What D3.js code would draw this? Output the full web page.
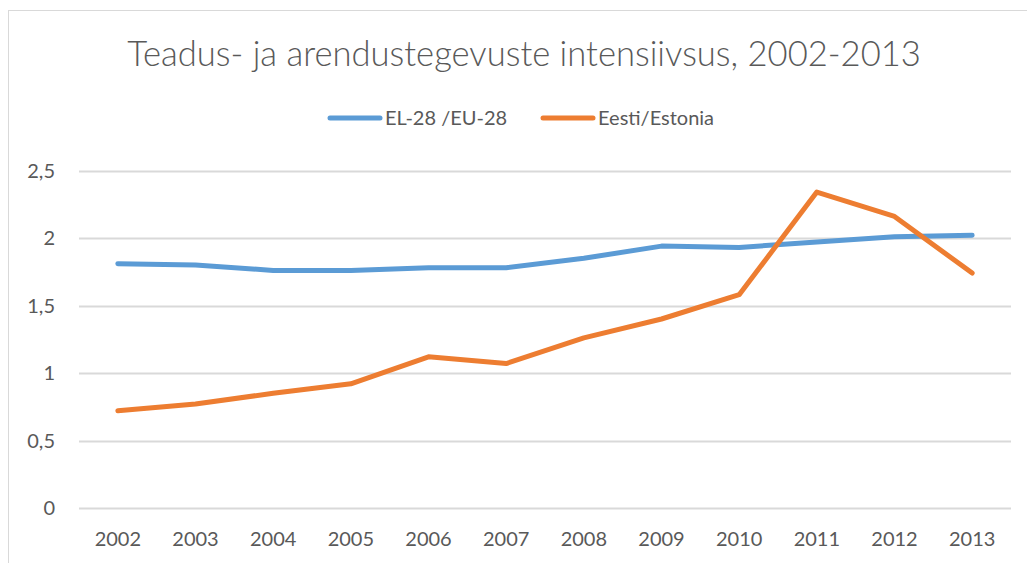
<!DOCTYPE html>
<html>
<head>
<meta charset="utf-8">
<script src="https://cdn.jsdelivr.net/npm/d3@7"></script>
<style>
  body { margin: 0; background: #fff; }
  text { font-family: Lato, "Open Sans", sans-serif; fill: #595959; }
</style>
</head>
<body>
<svg id="chart" width="1027" height="563"></svg>
<script>
'use strict';

var years = ['2002', '2003', '2004', '2005', '2006', '2007', '2008', '2009', '2010', '2011', '2012', '2013'];
var euValues = [1.81, 1.80, 1.76, 1.76, 1.78, 1.78, 1.85, 1.94, 1.93, 1.97, 2.01, 2.02];
var estoniaValues = [0.72, 0.77, 0.85, 0.92, 1.12, 1.07, 1.26, 1.40, 1.58, 2.34, 2.16, 1.74];
var yTicks = [0, 0.5, 1, 1.5, 2, 2.5];
var seriesNames = ['EL-28 /EU-28', 'Eesti/Estonia'];
var seriesColors = ['#5b9bd5', '#ed7d31'];
var titleText = 'Teadus- ja arendustegevuste intensiivsus, 2002-2013';

var svg = d3.select('#chart');

// outer chart frame
svg.append('rect')
  .attr('x', 8.5).attr('y', 10.5)
  .attr('width', 1040).attr('height', 600)
  .attr('fill', 'none')
  .attr('stroke', '#d9d9d9')
  .attr('stroke-width', 1);

var x = d3.scalePoint().domain(years).range([79, 1011]).padding(0.5);
var y = d3.scaleLinear().domain([0, 2.5]).range([508, 170.5]);

// gridlines
svg.append('g')
  .selectAll('line')
  .data(yTicks)
  .enter()
  .append('line')
  .attr('x1', 79).attr('x2', 1011)
  .attr('y1', function (d) { return Math.round(y(d)) + 0.5; })
  .attr('y2', function (d) { return Math.round(y(d)) + 0.5; })
  .attr('stroke', '#d9d9d9')
  .attr('stroke-width', 2);

// y labels
var fmt = function (d) { return String(d).replace('.', ','); };
svg.append('g')
  .selectAll('text')
  .data(yTicks)
  .enter()
  .append('text')
  .attr('x', 55)
  .attr('y', function (d) { return y(d); })
  .attr('dy', '0.35em')
  .attr('text-anchor', 'end')
  .style('font-size', '20px')
  .text(fmt);

// x labels
svg.append('g')
  .selectAll('text')
  .data(years)
  .enter()
  .append('text')
  .attr('x', function (d) { return x(d); })
  .attr('y', 539)
  .attr('dy', '0.35em')
  .attr('text-anchor', 'middle')
  .style('font-size', '20px')
  .text(function (d) { return d; });

// lines
var line = d3.line()
  .x(function (d, i) { return x(years[i]); })
  .y(function (d) { return y(d); });

svg.append('g')
  .selectAll('path')
  .data([euValues, estoniaValues])
  .enter()
  .append('path')
  .attr('d', line)
  .attr('fill', 'none')
  .attr('stroke', function (d, i) { return seriesColors[i]; })
  .attr('stroke-width', 5)
  .attr('stroke-linecap', 'round')
  .attr('stroke-linejoin', 'round');

// title
var title = svg.append('text')
  .attr('x', 524)
  .attr('y', 54)
  .attr('dy', '0.35em')
  .attr('text-anchor', 'middle')
  .style('font-size', '32px')
  .style('font-weight', 300)
  .text(titleText);
var tw = title.node().getComputedTextLength();
title.style('font-size', (32 * 794 / tw) + 'px');

// legend
var legendX = [330, 543];
var legend = svg.append('g')
  .selectAll('g')
  .data(seriesNames)
  .enter()
  .append('g')
  .attr('transform', function (d, i) { return 'translate(' + legendX[i] + ',118)'; });

legend.append('line')
  .attr('x1', 0).attr('x2', 50)
  .attr('stroke', function (d, i) { return seriesColors[i]; })
  .attr('stroke-width', 5)
  .attr('stroke-linecap', 'round');

legend.append('text')
  .attr('x', 55)
  .attr('dy', '0.35em')
  .style('font-size', '20px')
  .text(function (d) { return d; });
</script>
</body>
</html>
